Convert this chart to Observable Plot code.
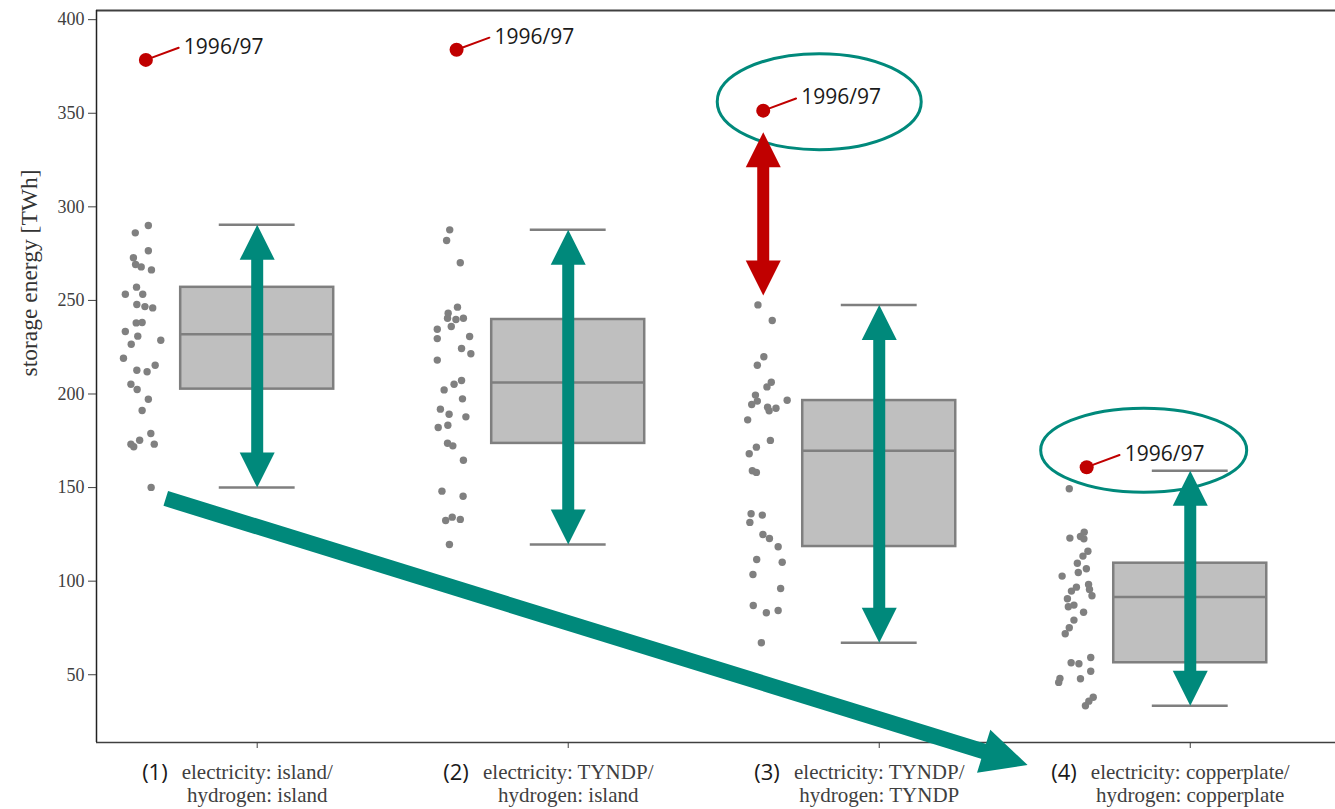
<!DOCTYPE html>
<html>
<head>
<meta charset="utf-8">
<script src="https://cdn.jsdelivr.net/npm/d3@7"></script>
<script src="https://cdn.jsdelivr.net/npm/@observablehq/plot@0.6"></script>
<style>
  body { margin: 0; background: #fff; }
  svg { display: block; }
</style>
</head>
<body>
<div id="chart"></div>
<script>
// ---------- data ----------
const categories = [
  "electricity: island/\nhydrogen: island",
  "electricity: TYNDP/\nhydrogen: island",
  "electricity: TYNDP/\nhydrogen: TYNDP",
  "electricity: copperplate/\nhydrogen: copperplate"
];
const categoryNumbers = ["(1)", "(2)", "(3)", "(4)"];
const yTicks = [50, 100, 150, 200, 250, 300, 350, 400];
const yLabel = "storage energy [TWh]";
const outlierLabel = "1996/97";

// box statistics per scenario [TWh]
const q1 = [202.6, 173.6, 118.5, 56.4];
const median = [231.9, 206.1, 169.7, 91.5];
const q3 = [257.0, 239.8, 196.5, 109.6];
const whiskerLow = [150.0, 119.6, 67.1, 33.4];
const whiskerHigh = [290.4, 287.7, 247.6, 159.0];

// weather year 1996/97 (highlighted)
const outlier9697 = [378.5, 383.9, 351.4, 160.9];
const outlierJitter = [0.012, 0.011, -0.003, 0.037];

// single weather years per scenario [TWh] with horizontal jitter
const storage1 = [290.0, 286.1, 276.5, 272.8, 269.2, 267.9, 266.3, 257.1, 253.3, 253.3, 247.8, 246.7, 246.0, 238.0, 238.2, 233.4, 230.9, 228.7, 226.6, 219.1, 212.7, 211.9, 215.4, 205.2, 202.4, 197.2, 191.2, 178.9, 175.3, 173.2, 171.8, 173.2, 150.1];
const jitter1 = [0.02, -0.022, 0.02, -0.028, -0.021, -0.003, 0.03, -0.018, -0.054, 0.002, -0.017, 0.009, 0.034, -0.019, 0, -0.054, -0.014, 0.06, -0.035, -0.06, -0.017, 0.016, 0.042, -0.036, -0.016, 0.02, 0, 0.028, -0.008, -0.036, -0.027, 0.039, 0.029];
const storage2 = [287.7, 282.0, 270.1, 246.4, 243.2, 240.5, 239.8, 240.5, 236.1, 234.6, 229.6, 230.7, 224.3, 221.5, 218.1, 207.2, 205.2, 202.2, 197.4, 191.9, 189.2, 187.8, 182.1, 183.3, 173.7, 172.3, 164.6, 148.1, 145.4, 132.4, 134.2, 133.0, 119.6];
const jitter2 = [-0.011, -0.021, 0.023, 0.014, -0.016, -0.018, 0.009, 0.033, -0.006, -0.051, -0.051, 0.053, 0.027, 0.057, -0.051, 0.027, 0.003, -0.029, 0.03, -0.041, -0.013, 0.041, -0.048, -0.017, -0.018, -0.001, 0.033, -0.036, 0.032, -0.024, -0.003, 0.023, -0.012];
const storage3 = [247.6, 239.3, 219.9, 215.4, 206.3, 203.8, 199.4, 196.2, 194.4, 196.7, 192.9, 191.0, 192.4, 186.2, 175.2, 171.6, 168.1, 159.0, 158.1, 136.0, 135.3, 131.4, 124.9, 122.8, 118.4, 111.6, 110.1, 103.6, 96.1, 87.0, 83.1, 84.3, 67.1];
const jitter3 = [-0.02, 0.026, -0.001, -0.022, 0.023, 0.009, -0.028, -0.022, -0.04, 0.074, 0.011, 0.016, 0.038, -0.053, 0.02, -0.025, -0.048, -0.038, -0.025, -0.042, -0.006, -0.046, -0.004, 0.017, 0.045, -0.024, 0.058, -0.036, 0.053, -0.035, 0.007, 0.045, -0.009];
const storage4 = [149.4, 123.0, 123.9, 126.2, 122.6, 116.0, 113.4, 109.6, 106.6, 104.6, 102.7, 98.2, 95.6, 92.2, 96.8, 94.7, 90.6, 86.3, 87.2, 83.4, 79.2, 75.1, 71.9, 59.2, 56.4, 55.9, 51.9, 47.9, 48.0, 45.9, 38.0, 35.9, 33.4];
const jitter4 = [-0.019, -0.017, 0.017, 0.029, 0.028, 0.041, 0.025, 0.007, 0.036, 0.01, -0.042, 0.043, 0.046, 0.054, 0.004, -0.012, -0.025, -0.022, -0.004, 0.027, -0.004, -0.019, -0.032, 0.05, -0.013, 0.012, 0.05, 0.017, -0.049, -0.053, 0.058, 0.044, 0.033];

// annotation arrows (data units)
const gapArrow = [252.6, 339.9];             // scenario (3): gap between 1996/97 and the rest
const trendFrom = [0.706, 144.2];           // [x (scenario index), TWh]
const trendTo = [3.477, 1.8];

// ---------- styling / layout ----------
const teal = "#00897b", red = "#c00000", grey = "#808080";
const serif = "'Liberation Serif', 'Times New Roman', serif";
const sans = "'Open Sans', 'Noto Sans', sans-serif";
const W = 1335, H = 809;
const mL = 96, mR = 0, mT = 10, mB = 67;
const xDomain = [0.4833, 4.467];
const yDomain = [13.8, 404.9];
const boxHalf = 0.246, whiskHalf = 0.122, cloudOffset = -0.37;

const storages = [storage1, storage2, storage3, storage4];
const jitters = [jitter1, jitter2, jitter3, jitter4];
const points = storages.flatMap((vals, g) => vals.map((v, k) => ({g: g + 1, v, x: g + 1 + cloudOffset + jitters[g][k]})));

const stats = categories.map((c, k) => ({i: k + 1, q1: q1[k], med: median[k], q3: q3[k], lo: whiskerLow[k], hi: whiskerHigh[k]}));
const outliers = outlier9697.map((v, k) => ({i: k + 1, v, x: k + 1 + cloudOffset + outlierJitter[k], label: outlierLabel}));

const tealArrows = stats.map(d => ({x: d.i, y1: d.lo, y2: d.hi}));
const tealHeads = stats.flatMap(d => [{x: d.i, y: d.hi, rot: 0}, {x: d.i, y: d.lo, rot: 180}]);
const redArrow = [{x: outliers[2].x, y1: gapArrow[0], y2: gapArrow[1]}];
const redHeads = [{x: outliers[2].x, y: gapArrow[1], rot: 0}, {x: outliers[2].x, y: gapArrow[0], rot: 180}];

// direction of the trend arrow in screen space
const xs = d3.scaleLinear(xDomain, [mL, W - mR]);
const ys = d3.scaleLinear(yDomain, [H - mB, mT]);
const tdx = xs(trendTo[0]) - xs(trendFrom[0]);
const tdy = ys(trendTo[1]) - ys(trendFrom[1]);
const trendAngle = Math.atan2(tdx, -tdy) * 180 / Math.PI;
const trend = [{x1: trendFrom[0], y1: trendFrom[1], x2: trendTo[0], y2: trendTo[1]}];

// shapes
const spike = {draw(ctx, l, r) { ctx.moveTo(-r, 0); ctx.lineTo(0, -l); ctx.lineTo(r, 0); ctx.closePath(); }};
const stick = {draw(ctx, l) { ctx.moveTo(0, 0); ctx.lineTo(0, -l); }};
function ellipse(a, b) {
  const k = 0.5522847;
  return {draw(ctx) {
    ctx.moveTo(a, 0);
    ctx.bezierCurveTo(a, b * k, a * k, b, 0, b);
    ctx.bezierCurveTo(-a * k, b, -a, b * k, -a, 0);
    ctx.bezierCurveTo(-a, -b * k, -a * k, -b, 0, -b);
    ctx.bezierCurveTo(a * k, -b, a, -b * k, a, 0);
    ctx.closePath();
  }};
}

// measure first line of category labels to place the (n) numbers
const mctx = document.createElement("canvas").getContext("2d");
mctx.font = "21px " + serif;
const numberMarks = categoryNumbers.map((t, k) => {
  const w = mctx.measureText(categories[k].split("\n")[0]).width;
  return Plot.text([{i: k + 1, t}], {
    x: "i", text: "t", frameAnchor: "bottom", dy: 37, dx: -(w / 2 + 14),
    textAnchor: "end", fontSize: 22, fontFamily: sans, fill: "#1a1a1a"
  });
});

const chart = Plot.plot({
  width: W, height: H,
  marginLeft: mL, marginRight: mR, marginTop: mT, marginBottom: mB,
  x: {domain: xDomain},
  y: {domain: yDomain},
  style: {background: "#fff", fontFamily: serif, overflow: "visible"},
  marks: [
    // frame lines
    Plot.ruleY([yDomain[1]], {stroke: "#404040", strokeWidth: 2}),
    Plot.ruleY([yDomain[0]], {stroke: "#404040", strokeWidth: 1.6}),
    Plot.ruleX([xDomain[0]], {stroke: "#222", strokeWidth: 1.5}),
    Plot.axisY({ticks: yTicks, tickSize: 8, tickPadding: 4, fontSize: 18, fontFamily: serif, color: "#404040", label: null}),
    Plot.axisX({ticks: [1, 2, 3, 4], tickFormat: i => categories[i - 1], tickSize: 6, tickPadding: 14,
      fontSize: 21, fontFamily: serif, lineHeight: 1.1, color: "#404040", label: null}),
    ...numberMarks,
    Plot.text([yLabel], {text: d => d, frameAnchor: "left", dx: -67, rotate: -90, fontSize: 23.5, fontFamily: serif, fill: "#333"}),

    // single weather years
    Plot.dot(points, {x: "x", y: "v", r: 3.7, fill: grey, stroke: "none"}),

    // box plots
    Plot.rect(stats, {x1: d => d.i - boxHalf, x2: d => d.i + boxHalf, y1: "q1", y2: "q3", fill: "#bfbfbf", stroke: "#7f7f7f", strokeWidth: 2.5}),
    Plot.ruleY(stats, {y: "med", x1: d => d.i - boxHalf, x2: d => d.i + boxHalf, stroke: "#7f7f7f", strokeWidth: 2.5}),
    Plot.ruleY(stats, {y: "hi", x1: d => d.i - whiskHalf, x2: d => d.i + whiskHalf, stroke: "#7f7f7f", strokeWidth: 2.5}),
    Plot.ruleY(stats, {y: "lo", x1: d => d.i - whiskHalf, x2: d => d.i + whiskHalf, stroke: "#7f7f7f", strokeWidth: 2.5}),

    // 1996/97 highlight
    Plot.vector(outliers, {x: "x", y: "v", length: 35, rotate: 69.7, anchor: "start", shape: stick, stroke: red, strokeWidth: 2}),
    Plot.dot(outliers, {x: "x", y: "v", r: 7, fill: red, stroke: "none"}),
    Plot.text(outliers, {x: "x", y: "v", text: "label", dx: 38, dy: -13, textAnchor: "start", fontSize: 21, fontFamily: sans, fill: "#1a1a1a"}),

    // ellipses around 1996/97 in scenarios (3) and (4)
    Plot.dot([outliers[2]], {x: "x", y: "v", dx: 56, dy: -9, symbol: ellipse(102, 48), r: 10, fill: "none", stroke: teal, strokeWidth: 3}),
    Plot.dot([outliers[3]], {x: "x", y: "v", dx: 57, dy: -17, symbol: ellipse(103, 42), r: 10, fill: "none", stroke: teal, strokeWidth: 3}),

    // vertical range arrows
    Plot.arrow(tealArrows, {x: "x", y1: "y1", y2: "y2", headLength: 0, insetStart: 32, insetEnd: 32, stroke: teal, strokeWidth: 12, strokeLinecap: "butt"}),
    Plot.vector(tealHeads, {x: "x", y: "y", rotate: "rot", length: 35, r: 17.5, anchor: "end", shape: spike, fill: teal, stroke: "none"}),
    Plot.arrow(redArrow, {x: "x", y1: "y1", y2: "y2", headLength: 0, insetStart: 32, insetEnd: 32, stroke: red, strokeWidth: 12, strokeLinecap: "butt"}),
    Plot.vector(redHeads, {x: "x", y: "y", rotate: "rot", length: 35, r: 17.5, anchor: "end", shape: spike, fill: red, stroke: "none"}),

    // trend arrow
    Plot.arrow(trend, {x1: "x1", y1: "y1", x2: "x2", y2: "y2", headLength: 0, insetEnd: 43, stroke: teal, strokeWidth: 15.5, strokeLinecap: "butt"}),
    Plot.vector([trendTo], {x: d => d[0], y: d => d[1], rotate: trendAngle, length: 46, r: 22.5, anchor: "end", shape: spike, fill: teal, stroke: "none"})
  ]
});
document.getElementById("chart").appendChild(chart);
</script>
</body>
</html>
